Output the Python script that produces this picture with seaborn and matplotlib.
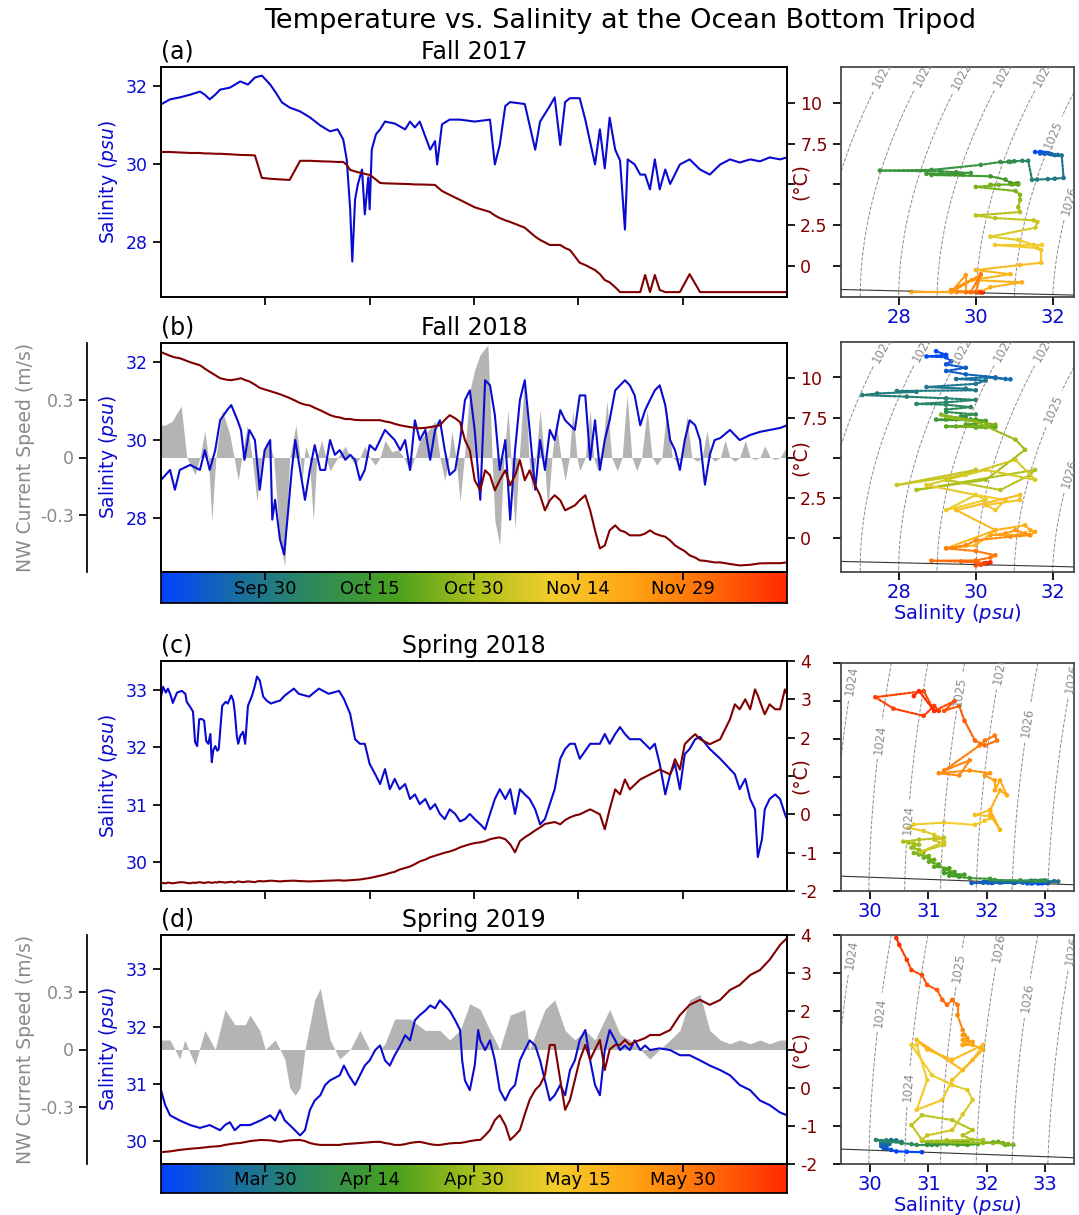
import numpy as np
import matplotlib
matplotlib.use("Agg")
import matplotlib.pyplot as plt
import seaborn as sns
from matplotlib.colors import LinearSegmentedColormap
from matplotlib.collections import LineCollection
import matplotlib.transforms as mtransforms

# ------------------------------------------------------------------ data
# time axis: days since start of each 90-day record
fall17_day = [0,1.3,2.7,4.2,5.6,6.3,7.0,7.8,8.5,9.9,11.4,12.5,13.5,14.5,15.7,16.4,17.4,18.5,20.0,21.4,
              22.9,24.3,25.4,26.2,26.7,27.2,27.5,27.9,28.3,28.9,29.3,29.8,30.0,30.3,30.9,31.5,32.2,33.6,35.1,35.8,
              36.5,37.2,38.7,39.4,39.7,40.4,41.5,43.0,45.1,47.3,48.0,48.7,49.5,50.2,52.3,53.8,54.5,55.9,56.6,57.4,
              58.1,58.8,60.2,61.0,62.4,63.1,63.8,64.5,65.3,66.0,66.7,67.1,68.1,68.9,69.6,70.3,71.0,71.7,72.5,73.2,
              74.6,76.0,77.5,78.9,80.4,81.8,83.2,84.7,86.1,87.5,89.0,90]
fall17_sal = [31.54,31.67,31.72,31.79,31.87,31.79,31.67,31.79,31.92,31.97,32.13,32.05,32.23,32.28,32.05,31.87,31.59,31.46,31.36,31.21,
              31.0,30.85,30.9,30.64,30.13,28.85,27.51,29.1,29.49,29.87,28.72,29.67,28.85,30.38,30.77,30.9,31.1,31.05,30.9,31.1,
              30.95,31.1,30.38,30.6,30.0,31.03,31.15,31.15,31.1,31.15,30.0,30.5,31.5,31.6,31.55,30.38,31.1,31.5,31.72,30.5,
              31.6,31.7,31.7,31.15,30.0,30.9,29.9,31.2,30.38,30.1,28.33,30.13,30.0,29.74,29.74,29.36,30.13,29.36,29.87,29.5,
              30.0,30.13,29.87,29.74,30.0,30.13,30.05,30.13,30.08,30.18,30.13,30.18]
fall17_temp = [6.99,6.99,6.96,6.93,6.93,6.9,6.9,6.88,6.88,6.85,6.81,6.8,6.78,5.4,5.35,5.33,5.3,5.28,6.45,6.45,
               6.42,6.4,6.38,6.38,6.2,5.89,5.85,5.8,5.75,5.7,5.65,5.6,5.58,5.5,5.3,5.09,5.07,5.05,5.03,5.02,
               5.0,5.0,4.98,4.97,4.85,4.6,4.36,4.05,3.6,3.31,3.1,2.94,2.8,2.7,2.35,1.8,1.6,1.29,1.29,1.29,
               1.1,0.98,0.2,0.06,-0.25,-0.5,-0.86,-1.0,-1.3,-1.6,-1.6,-1.6,-1.6,-1.6,-0.55,-1.6,-0.55,-1.47,-1.6,-1.6,
               -1.6,-0.5,-1.6,-1.6,-1.6,-1.6,-1.6,-1.6,-1.6,-1.6,-1.6,-1.6]

fall18_day = [0,1.3,2.0,2.7,4.2,5.6,6.3,7.0,7.8,8.5,9.5,10.1,11.0,11.5,12.0,12.7,13.5,14.2,14.9,15.7,
              16.0,16.4,17.1,17.7,18.3,18.8,19.3,20.0,20.7,21.4,22.1,22.9,23.6,24.3,25.0,25.7,26.5,27.2,27.9,28.6,
              29.3,30.0,30.8,31.5,32.2,32.9,33.6,34.4,35.1,35.8,36.5,37.2,38.0,38.7,39.4,40.1,40.8,41.5,42.3,43.0,
              43.7,44.4,45.1,45.9,46.6,47.3,48.0,48.7,49.5,50.2,50.9,51.6,52.3,53.0,53.8,54.5,55.2,55.9,56.6,57.4,
              58.1,59.5,60.2,61.0,61.7,62.4,63.1,63.8,64.5,65.3,66.0,66.7,67.4,68.1,68.9,69.6,70.3,71.0,71.7,72.5,
              73.2,73.9,74.6,75.3,76.0,76.8,77.5,78.2,78.9,79.6,80.4,81.8,83.2,84.7,86.1,87.5,89.0,90]
fall18_sal = [28.97,29.23,28.72,29.23,29.36,29.23,29.74,29.23,29.74,30.51,30.77,30.9,30.51,30.26,29.49,30.26,30.0,28.72,29.74,30.0,
              27.95,28.46,27.44,27.05,28.21,29.23,30.0,29.23,28.46,29.23,29.87,29.23,29.23,30.0,29.62,29.74,29.49,29.62,29.49,28.97,
              29.23,29.87,29.74,30.0,30.26,30.13,30.0,29.74,30.0,29.23,30.51,30.0,30.26,29.49,30.26,30.51,29.74,29.1,29.23,30.0,
              31.03,31.28,30.26,28.46,31.54,31.41,30.64,29.23,30.0,27.95,29.74,31.03,31.54,30.26,28.72,30.0,29.23,30.26,30.0,30.77,
              30.51,30.26,31.15,31.15,29.49,30.51,29.23,30.0,30.51,31.28,31.41,31.54,31.41,31.15,30.38,30.77,31.03,31.28,31.41,30.9,
              30.0,29.74,29.23,30.0,30.51,30.38,30.0,28.85,29.62,30.0,30.05,30.26,30.0,30.13,30.21,30.26,30.31,30.38]
fall18_temp = [11.63,11.4,11.3,11.25,11.0,10.81,10.6,10.4,10.19,10.0,9.9,9.88,9.95,10.0,9.9,9.8,9.6,9.4,9.3,9.2,
               9.15,9.1,9.0,8.9,8.8,8.7,8.6,8.45,8.35,8.3,8.15,8.0,7.85,7.7,7.6,7.55,7.45,7.45,7.4,7.38,
               7.38,7.38,7.38,7.38,7.3,7.25,7.15,7.06,7.0,6.95,6.9,6.88,6.9,6.95,7.0,7.06,7.4,7.69,7.5,7.25,
               6.13,5.5,3.63,3.0,4.25,3.94,3.0,3.63,4.25,3.31,3.94,4.88,3.63,4.25,3.3,2.69,1.75,2.38,2.69,2.38,
               1.75,2.06,2.38,2.69,1.75,0.5,-0.63,-0.44,0.5,0.81,0.5,0.4,0.19,0.19,0.19,0.3,0.5,0.3,0.19,0.1,
               -0.13,-0.44,-0.63,-0.8,-1.06,-1.2,-1.38,-1.4,-1.45,-1.5,-1.5,-1.6,-1.69,-1.65,-1.56,-1.55,-1.55,-1.5]
fall18_spd_day = [0,0.6,1.6,2.9,3.7,4.9,5.6,6.3,6.8,7.3,7.9,8.8,9.9,10.5,11.1,11.6,12.4,13.1,13.8,14.5,
                  15.4,16.2,17.1,17.8,18.5,19.4,20.0,20.3,20.6,20.8,21.3,21.9,22.4,23.1,23.7,24.3,25.4,26.5,27.2,27.9,
                  28.6,29.3,30.0,30.8,31.5,32.2,33.2,34.1,34.9,35.8,36.5,37.2,38.4,39.4,40.1,40.8,41.4,41.8,42.4,43.0,
                  43.6,44.4,45.1,45.9,47.0,47.6,48.0,48.7,49.3,49.9,50.3,50.9,51.5,52.3,52.9,53.3,53.9,54.5,55.1,55.6,
                  56.2,56.8,57.5,58.1,58.7,59.2,59.8,60.2,61.0,61.7,62.2,62.8,63.4,64.1,64.8,65.6,66.3,67.0,67.7,68.4,
                  69.1,69.9,70.6,71.3,72.0,72.7,73.5,74.2,74.9,75.6,76.3,77.1,77.8,78.5,79.1,79.6,80.4,81.1,81.8,82.5,
                  83.2,84.0,84.7,85.4,86.1,86.8,87.6,88.3,89.0,90]
fall18_spd = [0.17,0.17,0.19,0.27,0,-0.09,0,0.14,0,-0.33,0,0.25,0.12,0,-0.12,0,0.17,0,-0.23,0,
              0.09,0,-0.44,-0.57,0,0.17,0,-0.12,0,0.06,0,-0.33,0,0.09,0,-0.07,0,0.06,0,-0.04,
              0,0.06,0,-0.04,0,0.09,0.03,0.04,0,-0.07,0,0.09,0.14,0.19,0,-0.12,0,0.14,0,-0.23,
              0,0.35,0.46,0.54,0.59,0,-0.33,-0.46,0,0.25,0,-0.38,0,0.43,0,-0.17,0,0.25,0,-0.28,
              0,0.19,0,-0.12,0,0.25,0,-0.07,0,0.25,0,-0.07,0,0.3,0,-0.07,0,0.33,0,-0.07,
              0,0.25,0,-0.04,0,0.25,0,-0.02,0,0.22,0,-0.02,0,0.14,0,-0.02,0,0.09,0,-0.02,
              0,0.09,0,-0.01,0,0.06,0,-0.01,0,0.06]

spr18_day = [0,0.3,0.7,1.0,1.4,1.7,2.3,3.0,3.5,3.7,4.2,4.6,4.9,5.2,5.5,5.9,6.2,6.5,6.8,7.1,
             7.3,7.5,7.8,8.1,8.3,8.8,9.3,9.6,10.1,10.4,10.6,10.9,11.1,11.4,11.8,12.1,12.5,13.1,13.5,13.8,
             14.2,14.7,15.2,15.8,16.5,17.1,17.8,19.1,19.8,21.3,22.7,24.1,25.6,26.3,27.2,27.9,28.6,29.3,30.0,30.8,
             31.5,32.2,32.9,33.6,34.3,35.1,35.8,36.5,37.2,38.0,38.7,39.4,40.1,40.8,41.5,42.3,43.0,43.7,44.4,45.1,
             45.9,46.6,47.3,48.0,48.7,49.5,50.2,50.9,51.6,52.3,53.0,53.8,54.5,55.2,56.6,57.4,58.1,58.8,59.5,60.2,
             61.7,63.1,63.8,64.5,65.3,66.0,66.7,67.4,68.9,70.3,71.0,71.7,72.5,73.2,73.9,74.6,75.3,76.0,76.8,77.5,
             78.9,80.4,81.8,82.5,83.2,84.0,84.7,85.4,85.8,86.4,86.8,87.5,88.3,89.0,89.7,90]
spr18_sal = [32.88,33.05,32.95,33.02,32.9,32.77,32.95,32.98,32.93,32.79,32.7,32.62,32.09,32.02,32.49,32.49,32.46,32.11,32.06,32.23,
             31.74,31.94,32.02,31.94,31.97,32.72,32.79,32.76,32.9,32.81,32.62,32.2,32.06,32.2,32.27,32.06,32.72,32.9,33.07,33.23,
             33.16,32.88,32.81,32.76,32.79,32.81,32.9,33.02,32.93,32.88,33.02,32.93,32.98,32.84,32.58,32.14,32.06,32.06,31.71,31.53,
             31.36,31.62,31.27,31.45,31.27,31.36,31.1,31.18,31.01,31.1,30.92,31.01,30.84,30.75,30.92,30.84,30.71,30.75,30.84,30.75,
             30.66,30.57,30.84,31.1,31.27,31.1,31.27,30.84,31.27,31.18,31.1,30.92,30.66,30.75,31.27,31.8,31.97,32.06,32.06,31.8,
             32.06,32.06,32.23,32.06,32.23,32.35,32.23,32.14,32.14,31.97,32.06,31.71,31.18,31.53,31.71,31.27,31.88,31.97,32.14,32.18,
             31.97,31.8,31.62,31.53,31.27,31.45,31.1,30.92,30.09,30.4,30.92,31.1,31.18,31.1,30.84,30.75]
spr18_temp = [-1.80,-1.79,-1.80,-1.78,-1.79,-1.80,-1.78,-1.77,-1.78,-1.79,-1.80,-1.78,-1.79,-1.78,-1.77,-1.78,-1.79,-1.78,-1.77,-1.78,
              -1.79,-1.78,-1.77,-1.78,-1.76,-1.77,-1.78,-1.77,-1.76,-1.77,-1.78,-1.76,-1.75,-1.76,-1.77,-1.76,-1.75,-1.76,-1.77,-1.75,
              -1.74,-1.75,-1.74,-1.73,-1.74,-1.75,-1.74,-1.73,-1.74,-1.75,-1.74,-1.73,-1.72,-1.73,-1.72,-1.71,-1.7,-1.68,-1.66,-1.63,
              -1.6,-1.57,-1.53,-1.5,-1.44,-1.4,-1.36,-1.3,-1.23,-1.18,-1.12,-1.08,-1.04,-1.0,-0.97,-0.92,-0.86,-0.82,-0.78,-0.75,
              -0.73,-0.7,-0.65,-0.62,-0.6,-0.65,-0.78,-0.99,-0.7,-0.6,-0.52,-0.42,-0.34,-0.25,-0.2,-0.26,-0.15,-0.08,-0.03,0.0,
              0.13,0.0,-0.39,0.13,0.65,0.52,0.91,0.65,0.91,1.04,1.1,1.17,1.1,1.04,1.44,1.17,1.83,1.96,2.09,1.96,
              1.83,1.96,2.48,2.87,2.74,3.0,2.74,3.26,3.1,2.8,2.61,2.87,2.74,2.74,3.26,3.13]

spr19_day = [0,0.6,1.3,2.7,4.2,5.6,7.0,8.5,9.2,9.9,10.6,11.4,12.8,14.3,15.7,16.4,17.1,17.8,18.5,20.0,
             20.7,21.4,22.1,22.9,23.6,24.3,25.7,26.3,27.0,27.9,28.6,29.3,30.0,30.8,31.5,32.2,32.9,33.6,34.4,35.1,
             35.8,36.5,37.2,38.0,38.7,39.4,40.1,40.8,41.5,42.3,43.0,43.3,43.7,44.4,45.1,45.6,45.9,46.6,47.3,48.0,
             48.7,49.5,50.2,50.9,51.6,52.3,53.0,53.8,54.5,55.2,55.9,56.6,57.4,58.1,58.8,59.5,60.2,61.0,61.7,62.4,
             63.1,63.8,64.5,65.3,66.0,66.7,67.4,68.1,68.9,69.6,70.3,71.7,73.2,74.6,76.0,77.5,78.9,80.4,81.8,83.2,
             84.7,86.1,87.5,89.0,90]
spr19_sal = [30.89,30.63,30.45,30.36,30.28,30.23,30.28,30.19,30.28,30.33,30.19,30.28,30.28,30.36,30.45,30.36,30.54,30.36,30.28,30.1,
             30.19,30.54,30.71,30.8,30.98,31.06,31.15,31.32,31.15,30.98,31.15,31.32,31.41,31.59,31.67,31.41,31.32,31.5,31.67,31.85,
             31.76,32.11,32.2,32.28,32.37,32.32,32.46,32.37,32.28,32.11,31.94,31.41,31.06,30.89,31.32,31.94,31.76,31.59,31.76,31.41,
             30.89,30.71,30.89,30.98,31.41,31.59,31.76,31.67,31.41,31.06,30.71,30.8,30.98,30.8,31.24,31.41,31.76,31.94,31.41,30.98,
             30.8,31.59,31.94,31.76,31.59,31.67,31.59,31.76,31.59,31.67,31.59,31.62,31.59,31.5,31.5,31.41,31.32,31.24,31.15,30.98,
             30.89,30.71,30.63,30.5,30.45]
spr19_temp = [-1.69,-1.68,-1.67,-1.63,-1.6,-1.58,-1.55,-1.53,-1.5,-1.48,-1.46,-1.45,-1.4,-1.37,-1.38,-1.4,-1.42,-1.4,-1.38,-1.37,
              -1.4,-1.45,-1.48,-1.5,-1.5,-1.5,-1.5,-1.48,-1.47,-1.46,-1.45,-1.44,-1.43,-1.42,-1.42,-1.45,-1.47,-1.5,-1.5,-1.48,
              -1.45,-1.43,-1.42,-1.45,-1.48,-1.5,-1.5,-1.48,-1.46,-1.45,-1.45,-1.44,-1.43,-1.4,-1.38,-1.37,-1.37,-1.25,-1.11,-0.85,
              -0.72,-0.98,-1.37,-1.25,-1.11,-0.7,-0.32,-0.06,0.07,0.33,1.12,1.12,0.2,-0.58,-0.32,0.2,0.73,1.12,0.73,1.0,
              1.25,0.46,1.0,1.12,1.12,1.25,1.12,1.2,1.25,1.3,1.38,1.38,1.51,1.9,2.17,2.3,2.17,2.3,2.56,2.69,
              2.95,3.08,3.35,3.74,3.92]
spr19_spd_day = [0,1.3,2.0,2.7,3.4,4.9,6.3,7.8,9.2,10.6,12.1,12.8,14.2,15.0,16.4,17.8,18.5,19.3,20.0,20.7,
                 22.1,22.9,24.3,25.7,27.2,28.6,30.0,31.5,32.2,33.6,35.8,38.0,40.1,41.5,43.0,44.4,45.9,47.3,48.7,50.2,
                 52.3,53.0,55.2,56.6,58.1,59.5,61.0,62.4,64.5,66.0,67.4,68.9,70.3,71.7,73.2,74.6,76.0,77.5,78.9,80.4,
                 81.8,83.2,84.7,86.1,87.5,89.0,90]
spr19_spd = [0.05,0.05,0.0,-0.05,0.05,-0.08,0.1,0.0,0.21,0.13,0.13,0.18,0.1,0.0,0.05,-0.05,-0.2,-0.24,-0.2,0.0,
             0.26,0.32,0.05,-0.05,0.0,0.1,0.0,0.0,0.03,0.16,0.16,0.1,0.1,0.05,0.1,0.24,0.21,0.1,0.0,0.18,
             0.21,0.0,0.21,0.26,0.1,0.05,0.1,0.05,0.21,0.08,0.05,0.0,-0.05,0.0,0.05,0.1,0.26,0.29,0.1,0.05,
             0.03,0.05,0.03,0.05,0.03,0.05,0.05]

tick_days = [15, 30, 45, 60, 75]
fall_ticklabels = ['Sep 30', 'Oct 15', 'Oct 30', 'Nov 14', 'Nov 29']
spring_ticklabels = ['Mar 30', 'Apr 14', 'Apr 30', 'May 15', 'May 30']

fall_levels = [1020.87, 1021.68, 1022.49, 1023.30, 1024.12, 1024.93, 1025.74]
fall_level_labels = ['1021', '1022', '1022', '1023', '1024', '1025', '1026']
spring_levels = [1023.6, 1024.1, 1024.6, 1025.1, 1025.6, 1026.1, 1026.6]
spring_level_labels = ['1024', '1024', '1024', '1025', '1026', '1026', '1026']

for name in ['fall17', 'fall18', 'spr18', 'spr19']:
    n = [len(globals()[name + s]) for s in ['_day', '_sal', '_temp']]
    if len(set(n)) != 1:
        raise ValueError(f"{name} lengths {n}")
for name in ['fall18', 'spr19']:
    n = [len(globals()[name + s]) for s in ['_spd_day', '_spd']]
    if len(set(n)) != 1:
        raise ValueError(f"{name} spd lengths {n}")

# ------------------------------------------------------------------ style
sns.set_theme(style="ticks")
plt.rcParams['font.family'] = ['DejaVu Sans']
plt.rcParams['mathtext.fontset'] = 'dejavusans'
for k in ['text.color', 'axes.labelcolor', 'xtick.color', 'ytick.color', 'axes.edgecolor']:
    plt.rcParams[k] = 'black'

BLUE = '#0a0ad0'
RED = '#800000'
GRAY = '#8a8a8a'
cmap = LinearSegmentedColormap.from_list(
    'time', ['#0044ff', '#1a6fa0', '#2f8c57', '#4aa11e', '#a7c01c',
             '#f2ce2c', '#ffa514', '#ff6d08', '#ff2a00'])

W, H = 1079, 1215
fig = plt.figure(figsize=(W / 100, H / 100), dpi=100)


def rect(x0, y0, x1, y1):
    return [x0 / W, 1 - y1 / H, (x1 - x0) / W, (y1 - y0) / H]


def rho(S, T):
    rw = (999.842594 + 6.793952e-2 * T - 9.095290e-3 * T ** 2 + 1.001685e-4 * T ** 3
          - 1.120083e-6 * T ** 4 + 6.536332e-9 * T ** 5)
    A = 0.824493 - 4.0899e-3 * T + 7.6438e-5 * T ** 2 - 8.2467e-7 * T ** 3 + 5.3875e-9 * T ** 4
    B = -5.72466e-3 + 1.0227e-4 * T - 1.6546e-6 * T ** 2
    return rw + A * S + B * S ** 1.5 + 4.8314e-4 * S ** 2


def tfreeze(S):
    return -0.0575 * S + 1.710523e-3 * S ** 1.5 - 2.154996e-4 * S ** 2


def main_panel(r, day, sal, temp, title, tag, slim, sticks, tlim, tticks, tlabels):
    ax = fig.add_axes(r)
    sns.lineplot(x=day, y=sal, ax=ax, color=BLUE, lw=1.5, estimator=None)
    ax.set_xlim(0, 90)
    ax.set_ylim(*slim)
    ax.set_yticks(sticks)
    ax.set_yticklabels([f'{v:g}' for v in sticks])
    ax.tick_params(axis='y', labelcolor=BLUE, labelsize=12.5)
    ax.set_xticks(tick_days)
    ax.set_xticklabels([])
    ax.set_xlabel('')
    ax.set_ylabel('Salinity ($\\it{psu}$)', color=BLUE, fontsize=13.5)
    ax.set_title(title, fontsize=17)
    ax.set_title(tag, loc='left', fontsize=17)
    ax.set_zorder(2)
    ax.patch.set_visible(False)
    axT = ax.twinx()
    sns.lineplot(x=day, y=temp, ax=axT, color=RED, lw=1.5, estimator=None)
    axT.set_ylim(*tlim)
    axT.set_yticks(tticks)
    axT.set_yticklabels(tlabels)
    axT.tick_params(axis='y', labelcolor=RED, labelsize=12.5)
    axT.set_ylabel('')
    axT.set_zorder(3)
    axT.text(1.021, 0.5, '(°C)', transform=axT.transAxes, rotation=90, ha='center',
             va='center', color=RED, fontsize=13.5)
    return ax


def speed_axis(ax, sday, spd):
    axS = ax.twinx()
    axS.fill_between(sday, 0, spd, color='#b4b4b4', lw=0)
    axS.set_ylim(-0.6, 0.6)
    axS.set_xlim(0, 90)
    for s in ['right', 'top', 'bottom']:
        axS.spines[s].set_visible(False)
    axS.spines['left'].set_visible(True)
    axS.spines['left'].set_position(('axes', -0.118))
    axS.yaxis.set_ticks_position('left')
    axS.yaxis.set_label_position('left')
    axS.set_yticks([-0.3, 0, 0.3])
    axS.set_yticklabels(['-0.3', '0', '0.3'])
    axS.tick_params(axis='y', labelcolor=GRAY, labelsize=12.5)
    axS.set_ylabel('NW Current Speed (m/s)', color=GRAY, fontsize=13.5)
    axS.set_zorder(1)


def colorbar(r, labels):
    cax = fig.add_axes(r)
    grad = np.linspace(0, 90, 256)[None, :]
    cax.imshow(grad, aspect='auto', cmap=cmap, extent=[0, 90, 0, 1], vmin=0, vmax=90)
    cax.set_xlim(0, 90)
    cax.set_ylim(0, 1)
    cax.set_xticks([])
    cax.set_yticks([])
    trans = mtransforms.blended_transform_factory(cax.transData, cax.transAxes)
    for d, lab in zip(tick_days, labels):
        cax.text(d, 0.45, lab, transform=trans, ha='center', va='center', fontsize=13, color='black')
    cax.set_zorder(0)


def ts_panel(r, day, sal, temp, xlim, xticks, ylim, yticks, levels, labels, lpos, xlabel):
    ax = fig.add_axes(r)
    Sg, Tg = np.meshgrid(np.linspace(xlim[0], xlim[1], 240), np.linspace(ylim[0], ylim[1], 240))
    cs = ax.contour(Sg, Tg, rho(Sg, Tg), levels=levels, colors='#8c8c8c',
                    linestyles='--', linewidths=0.7)
    fmt = {lv: lab for lv, lab in zip(cs.levels, labels)}
    txts = ax.clabel(cs, cs.levels, inline=True, fmt=fmt, fontsize=8.5, manual=lpos)
    for t in txts:
        t.set_clip_on(True)
    sf = np.linspace(xlim[0], xlim[1], 60)
    ax.plot(sf, tfreeze(sf), color='#333333', lw=0.8)
    pts = np.column_stack([sal, temp]).reshape(-1, 1, 2)
    segs = np.concatenate([pts[:-1], pts[1:]], axis=1)
    lc = LineCollection(segs, cmap=cmap, norm=plt.Normalize(0, 90), linewidths=1.6,
                        linestyles=(0, (1.2, 0.8)), capstyle='round')
    lc.set_array(np.asarray(day[:-1], dtype=float))
    ax.add_collection(lc)
    sns.scatterplot(x=sal, y=temp, hue=day, palette=cmap, hue_norm=(0, 90), s=11,
                    linewidth=0, legend=False, ax=ax)
    ax.set_xlim(*xlim)
    ax.set_ylim(*ylim)
    ax.set_xticks(xticks)
    ax.set_xticklabels([f'{v:g}' for v in xticks])
    ax.set_yticks(yticks)
    ax.set_yticklabels([])
    ax.tick_params(axis='x', labelcolor=BLUE, labelsize=14, pad=2)
    for s in ax.spines.values():
        s.set_color('#444444')
    ax.set_ylabel('')
    ax.set_xlabel('Salinity ($\\it{psu}$)' if xlabel else '', color=BLUE, fontsize=14, labelpad=0)
    return ax


# ------------------------------------------------------------------ panels
fall_T_ticks = [0, 2.5, 5, 7.5, 10]
fall_T_labels = ['0', '2.5', '', '7.5', '10']
spr_T_ticks = [-2, -1, 0, 1, 2, 3, 4]
spr_T_labels = ['-2', '-1', '0', '', '2', '3', '4']

main_panel(rect(161, 67, 787, 297), fall17_day, fall17_sal, fall17_temp, 'Fall 2017', '(a)',
           (26.6, 32.5), [28, 30, 32], (-1.9, 12.2), fall_T_ticks, fall_T_labels)
axb = main_panel(rect(161, 343, 787, 572), fall18_day, fall18_sal, fall18_temp, 'Fall 2018', '(b)',
                 (26.6, 32.5), [28, 30, 32], (-2.1, 12.2), fall_T_ticks, fall_T_labels)
speed_axis(axb, fall18_spd_day, fall18_spd)
colorbar(rect(161, 572, 787, 603), fall_ticklabels)

main_panel(rect(161, 661, 787, 891), spr18_day, spr18_sal, spr18_temp, 'Spring 2018', '(c)',
           (29.5, 33.5), [30, 31, 32, 33], (-2, 4), spr_T_ticks, spr_T_labels)
axd = main_panel(rect(161, 935, 787, 1164), spr19_day, spr19_sal, spr19_temp, 'Spring 2019', '(d)',
                 (29.6, 33.6), [30, 31, 32, 33], (-2, 4), spr_T_ticks, spr_T_labels)
speed_axis(axd, spr19_spd_day, spr19_spd)
colorbar(rect(161, 1164, 787, 1193), spring_ticklabels)

fall_lpos = [(27.4, 12.0), (28.5, 12.0), (29.57, 11.7), (30.6, 12.0), (31.65, 12.0), (31.97, 8.1), (32.36, 4.05)]
spr_lpos_c = [(29.69, 3.52), (30.13, 2.0), (30.64, -0.13), (31.52, 3.26), (32.16, 3.84), (32.67, 2.43), (33.38, 3.6)]
spr_lpos_d = [(29.69, 3.47), (30.13, 1.98), (30.62, 0.02), (31.52, 3.15), (32.16, 3.68), (32.67, 2.35), (33.38, 3.6)]

ts_panel(rect(841, 67, 1074, 297), fall17_day, fall17_sal, fall17_temp, (26.5, 32.55), [28, 30, 32],
         (-1.9, 12.2), fall_T_ticks, fall_levels, fall_level_labels, fall_lpos, False)
ts_panel(rect(841, 342, 1074, 572), fall18_day, fall18_sal, fall18_temp, (26.5, 32.55), [28, 30, 32],
         (-2.1, 12.2), fall_T_ticks, fall_levels, fall_level_labels, fall_lpos, True)
ts_panel(rect(841, 663, 1074, 891), spr18_day, spr18_sal, spr18_temp, (29.5, 33.5), [30, 31, 32, 33],
         (-2, 4), spr_T_ticks, spring_levels, spring_level_labels, spr_lpos_c, False)
ts_panel(rect(841, 935, 1074, 1164), spr19_day, spr19_sal, spr19_temp, (29.5, 33.5), [30, 31, 32, 33],
         (-2, 4), spr_T_ticks, spring_levels, spring_level_labels, spr_lpos_d, True)

fig.text(0.575, 0.983, 'Temperature vs. Salinity at the Ocean Bottom Tripod', ha='center',
         va='center', fontsize=19.5, color='black')

fig.savefig('out.png', dpi=100)
